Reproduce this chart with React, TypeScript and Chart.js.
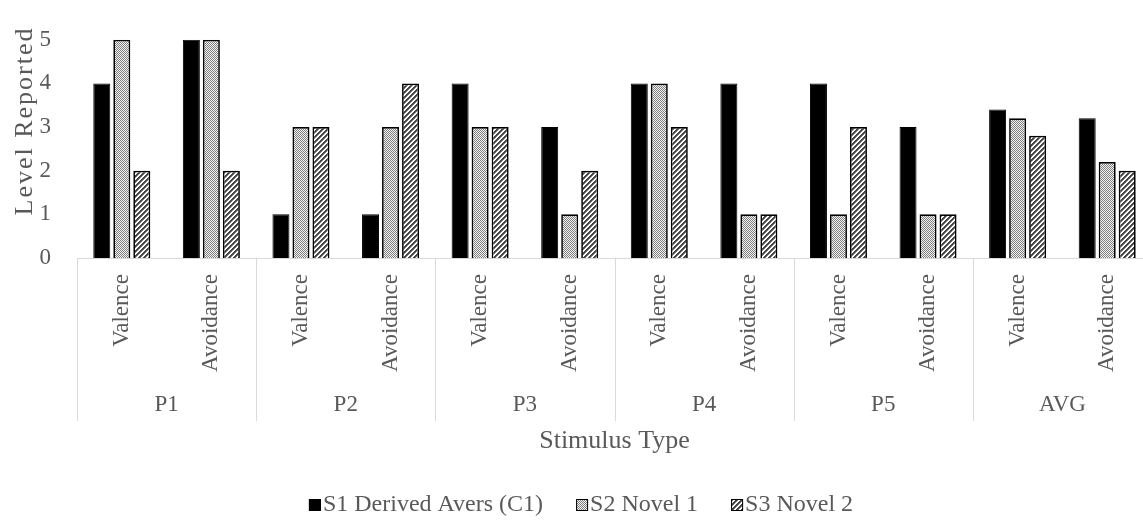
import React, { useEffect, useRef } from 'react';
import { Chart, registerables } from 'chart.js';

Chart.register(...registerables);

const groups = ['P1', 'P2', 'P3', 'P4', 'P5', 'AVG'];
const measures = ['Valence', 'Avoidance'];
const categoryLabels = groups.flatMap((g) => measures.map((m) => `${g} ${m}`));
const s1Values = [4, 5, 1, 1, 4, 3, 4, 4, 4, 3, 3.4, 3.2];
const s2Values = [5, 5, 3, 3, 3, 1, 4, 1, 1, 1, 3.2, 2.2];
const s3Values = [2, 2, 3, 4, 3, 2, 3, 1, 3, 1, 2.8, 2.0];
const seriesNames = ['S1 Derived Avers (C1)', 'S2 Novel 1', 'S3 Novel 2'];
const yTitle = 'Level Reported';
const xTitle = 'Stimulus Type';

const TEXT = '#595959';
const SERIF = '"Liberation Serif", "Times New Roman", serif';

function makePattern(kind: 'checker' | 'hatch'): CanvasPattern | string {
  const c = document.createElement('canvas');
  const n = kind === 'checker' ? 2 : 5;
  c.width = n;
  c.height = n;
  const cx = c.getContext('2d');
  if (!cx) return '#999';
  const img = cx.createImageData(n, n);
  for (let y = 0; y < n; y++) {
    for (let x = 0; x < n; x++) {
      let v = 255;
      if (kind === 'checker') {
        v = (x + y) % 2 === 0 ? 125 : 245;
      } else {
        const k = (x + y) % n;
        v = k < 2 ? 70 : k === 2 ? 120 : 255;
      }
      const i = (y * n + x) * 4;
      img.data[i] = v;
      img.data[i + 1] = v;
      img.data[i + 2] = v;
      img.data[i + 3] = 255;
    }
  }
  cx.putImageData(img, 0, 0);
  return cx.createPattern(c, 'repeat') || '#999';
}

export default function App() {
  const ref = useRef<HTMLCanvasElement | null>(null);

  useEffect(() => {
    if (!ref.current) return;
    const checker = makePattern('checker');
    const hatch = makePattern('hatch');
    const fills = ['#000000', checker, hatch];

    const labelsPlugin = {
      id: 'excelAxisLabels',
      afterDraw(chart: any) {
        const { ctx, chartArea, scales } = chart;
        const x = scales.x;
        ctx.save();
        ctx.fillStyle = TEXT;

        // inner rotated labels
        ctx.font = `23px ${SERIF}`;
        for (let i = 0; i < categoryLabels.length; i++) {
          const px = x.getPixelForValue(i);
          ctx.save();
          ctx.translate(px, chartArea.bottom + 16);
          ctx.rotate(-Math.PI / 2);
          ctx.textAlign = 'right';
          ctx.textBaseline = 'middle';
          ctx.fillText(measures[i % measures.length], 0, 0);
          ctx.restore();
        }

        // group separators and labels
        const cw = x.getPixelForValue(1) - x.getPixelForValue(0);
        ctx.strokeStyle = '#d9d9d9';
        ctx.lineWidth = 1;
        for (let k = 0; k <= groups.length; k++) {
          const bx = Math.round(x.getPixelForValue(k * measures.length) - cw / 2) + 0.5;
          ctx.beginPath();
          ctx.moveTo(bx, chartArea.bottom);
          ctx.lineTo(bx, 421);
          ctx.stroke();
        }
        ctx.textAlign = 'center';
        ctx.textBaseline = 'middle';
        for (let k = 0; k < groups.length; k++) {
          const cx =
            (x.getPixelForValue(k * 2) + x.getPixelForValue(k * 2 + 1)) / 2;
          ctx.fillText(groups[k], cx, 405);
        }

        // axis titles
        ctx.font = `26px ${SERIF}`;
        ctx.fillText(xTitle, (chartArea.left + chartArea.right) / 2, 441);
        ctx.save();
        ctx.font = `26px ${SERIF}`;
        (ctx as any).letterSpacing = '2px';
        ctx.translate(25, 121);
        ctx.rotate(-Math.PI / 2);
        ctx.fillText(yTitle, 0, 0);
        ctx.restore();

        // legend
        ctx.font = `24px ${SERIF}`;
        const box = 12;
        const gap = 2;
        const spacing = 33;
        const widths = seriesNames.map((s) => ctx.measureText(s).width);
        const total =
          widths.reduce((a, w) => a + box + gap + w, 0) + spacing * (seriesNames.length - 1);
        let lx = 581 - total / 2;
        const ly = 505;
        ctx.textAlign = 'left';
        for (let i = 0; i < seriesNames.length; i++) {
          ctx.fillStyle = fills[i] as any;
          ctx.fillRect(lx, ly - box / 2, box, box);
          ctx.strokeStyle = '#000';
          ctx.lineWidth = 1;
          ctx.strokeRect(lx + 0.5, ly - box / 2 + 0.5, box - 1, box - 1);
          ctx.fillStyle = TEXT;
          ctx.fillText(seriesNames[i], lx + box + gap, ly);
          lx += box + gap + widths[i] + spacing;
        }
        ctx.restore();
      },
    };

    const chart = new Chart(ref.current, {
      type: 'bar',
      data: {
        labels: categoryLabels,
        datasets: [
          { label: seriesNames[0], data: s1Values, backgroundColor: fills[0] as any, borderColor: '#000', borderWidth: 1 },
          { label: seriesNames[1], data: s2Values, backgroundColor: fills[1] as any, borderColor: '#000', borderWidth: 1.7 },
          { label: seriesNames[2], data: s3Values, backgroundColor: fills[2] as any, borderColor: '#000', borderWidth: 1.7 },
        ],
      },
      options: {
        responsive: false,
        animation: false,
        layout: { padding: { top: 17, right: 8, bottom: 0, left: 0 } },
        datasets: { bar: { categoryPercentage: 0.67, barPercentage: 0.85 } },
        plugins: { legend: { display: false }, tooltip: { enabled: false } },
        scales: {
          x: {
            type: 'category',
            grid: { display: false, drawTicks: false },
            border: { display: true, color: '#d9d9d9', width: 1 },
            ticks: { display: false },
            afterFit: (s: any) => {
              s.height = 267;
            },
          },
          y: {
            min: 0,
            max: 5,
            grid: { display: false, drawTicks: false },
            border: { display: false },
            ticks: {
              stepSize: 1,
              color: TEXT,
              padding: 26,
              font: { family: SERIF, size: 23 },
            },
            afterFit: (s: any) => {
              s.width = 77;
            },
          },
        },
      },
      plugins: [labelsPlugin],
    });
    return () => chart.destroy();
  }, []);

  return (
    <div
      style={{
        position: 'fixed',
        left: 0,
        top: 0,
        width: 1143,
        height: 525,
        overflow: 'hidden',
        background: '#fff',
      }}
    >
      <canvas ref={ref} width={1160} height={525} style={{ width: 1160, height: 525, display: 'block' }} />
    </div>
  );
}
